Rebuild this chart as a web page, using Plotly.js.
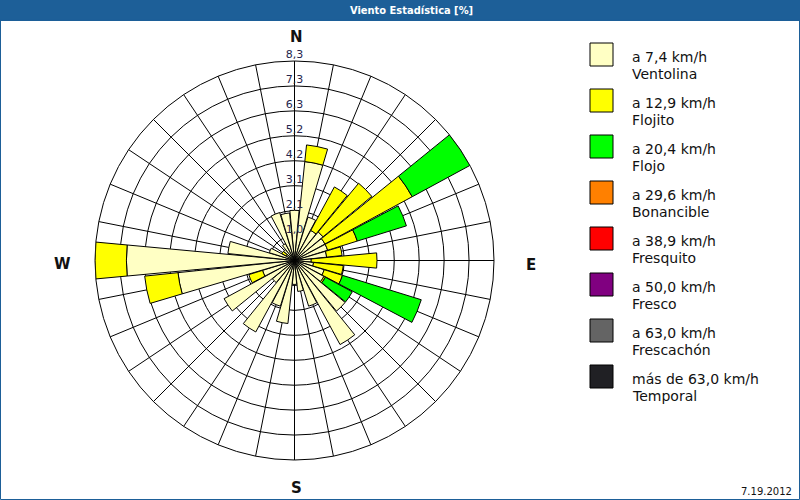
<!DOCTYPE html>
<html><head><meta charset="utf-8">
<script src="https://cdn.plot.ly/plotly-3.0.1.min.js"></script>
<style>html,body{margin:0;padding:0;background:#fff}#chart{width:800px;height:500px}</style>
</head><body><div id="chart"></div>
<script>
// ---- data ----
const directions = [0, 11.25, 22.5, 33.75, 45, 56.25, 67.5, 78.75, 90, 101.25, 112.5, 123.75,
  135, 146.25, 157.5, 168.75, 180, 191.25, 202.5, 213.75, 225, 236.25, 247.5, 258.75,
  270, 281.25, 292.5, 303.75, 315, 326.25, 337.5, 348.75];
const ventolina = [2.1, 4.16, 1.9, 1.43, 1.55, 1.45, 1.45, 1.35, 0.7, 0.8, 1.3, 1.4,
  2.75, 4.0, 2.0, 1.3, 1.0, 2.65, 2.0, 3.4, 1.2, 3.35, 1.4, 4.9,
  7.03, 2.8, 1.1, 0.4, 0.6, 0.8, 2.1, 2.0];
const flojito = [0, 0.7, 0, 2.07, 2.65, 4.15, 1.3, 0.65, 2.75, 1.25, 0.8, 0.07,
  0, 0, 0, 0, 0, 0, 0, 0, 0, 0, 0.6, 1.4,
  1.31, 0, 0, 0.2, 0, 0, 0, 0];
const flojo = [0, 0, 0, 0, 0, 2.74, 2.15, 0, 0, 0, 3.45, 1.28,
  0, 0, 0, 0, 0, 0, 0, 0, 0, 0, 0, 0,
  0, 0, 0, 0, 0, 0, 0, 0];
const radialTicks = [1.043, 2.086, 3.129, 4.172, 5.215, 6.258, 7.301, 8.344];
const radialTickText = ["1,0", "2,1", "3,1", "4,2", "5,2", "6,3", "7,3", "8,3"];
const legendSpeeds = ["a 7,4 km/h", "a 12,9 km/h", "a 20,4 km/h", "a 29,6 km/h",
  "a 38,9 km/h", "a 50,0 km/h", "a 63,0 km/h", "más de 63,0 km/h"];
const legendNames = ["Ventolina", "Flojito", "Flojo", "Bonancible", "Fresquito",
  "Fresco", "Frescachón", "Temporal"];
const legendColors = ["#ffffc4", "#ffff00", "#00ff00", "#ff8000", "#ff0000",
  "#800080", "#646464", "#202024"];
const compassLabels = ["N", "E", "S", "W"];
const chartTitle = "Viento Estadística [%]";
const dateText = "7.19.2012";

// ---- layout helpers ----
const W = 800, H = 500;
const px = x => x / W, py = y => 1 - y / H;
const cx = 294.5, cy = 260.5, R = 199.5;
const blue = "#1d5f98";
const FONT = "DejaVu Sans, Verdana, sans-serif";

const barWidth = 10.6;
const series = [ventolina, flojito, flojo];
const traces = series.map((vals, k) => ({
  type: "barpolar",
  r: vals,
  theta: directions,
  width: directions.map(() => barWidth),
  name: legendNames[k],
  marker: {color: legendColors[k], line: {color: "#000", width: 1}},
  hoverinfo: "skip",
  showlegend: false
}));
traces.push({
  type: "scatterpolar",
  mode: "text",
  r: radialTicks,
  theta: radialTicks.map(() => 0),
  text: radialTickText,
  textposition: "top center",
  textfont: {family: FONT, size: 11, color: "#25254c"},
  cliponaxis: false,
  hoverinfo: "skip",
  showlegend: false
});

const shapes = [
  {type: "rect", xref: "paper", yref: "paper", x0: 0, x1: 1, y0: py(21), y1: 1,
   fillcolor: blue, line: {width: 0}, layer: "below"},
  {type: "rect", xref: "paper", yref: "paper", x0: px(0.5), x1: px(799.5), y0: py(499.5), y1: py(20),
   fillcolor: "rgba(0,0,0,0)", line: {color: blue, width: 1}}
];
const annotations = [
  {xref: "paper", yref: "paper", x: px(411), y: py(10.5), xanchor: "center", yanchor: "middle",
   text: chartTitle, showarrow: false,
   font: {family: "DejaVu Sans Condensed, DejaVu Sans, sans-serif", size: 11, color: "#fff", weight: "bold"}},
  {xref: "paper", yref: "paper", x: px(794), y: py(491.5), xanchor: "right", yanchor: "middle",
   text: dateText, showarrow: false, font: {family: FONT, size: 10, color: "#111"}}
];
const compassPos = [[296, 37], [531, 265], [296, 488], [62, 264]];
compassLabels.forEach((t, i) => annotations.push({
  xref: "paper", yref: "paper", x: px(compassPos[i][0]), y: py(compassPos[i][1]),
  xanchor: "center", yanchor: "middle", text: t, showarrow: false,
  font: {family: FONT, size: 15, color: "#111", weight: "bold"}
}));
legendNames.forEach((nm, i) => {
  const top = 43 + 46 * i;
  shapes.push({type: "rect", xref: "paper", yref: "paper",
    x0: px(590), x1: px(613), y0: py(top + 23), y1: py(top),
    fillcolor: legendColors[i], line: {color: "#000", width: 1}});
  annotations.push({xref: "paper", yref: "paper", x: px(630), y: py(top + 14), xanchor: "left", yanchor: "middle",
    text: legendSpeeds[i], showarrow: false, font: {family: FONT, size: 14, color: "#111"}});
  annotations.push({xref: "paper", yref: "paper", x: px(630), y: py(top + 31), xanchor: "left", yanchor: "middle",
    text: nm, showarrow: false, font: {family: FONT, size: 14, color: "#111"}});
});

const layout = {
  width: W, height: H,
  margin: {l: 0, r: 0, t: 0, b: 0},
  paper_bgcolor: "#fff",
  showlegend: false,
  polar: {
    domain: {x: [px(cx - R), px(cx + R)], y: [1 - (cy + R) / H, 1 - (cy - R) / H]},
    bgcolor: "#fff",
    barmode: "stack",
    radialaxis: {range: [0, 8.344], tickmode: "array", tickvals: radialTicks, ticktext: radialTickText,
      showticklabels: false, ticks: "", showline: false, gridcolor: "#000", gridwidth: 1, layer: "below traces"},
    angularaxis: {rotation: 90, direction: "clockwise", tickmode: "linear", tick0: 0, dtick: 11.25,
      showticklabels: false, ticks: "", showline: true, linecolor: "#000", linewidth: 1,
      gridcolor: "#000", gridwidth: 1, layer: "below traces"}
  },
  shapes: shapes,
  annotations: annotations
};
Plotly.newPlot("chart", traces, layout, {displayModeBar: false, staticPlot: true});
</script></body></html>
